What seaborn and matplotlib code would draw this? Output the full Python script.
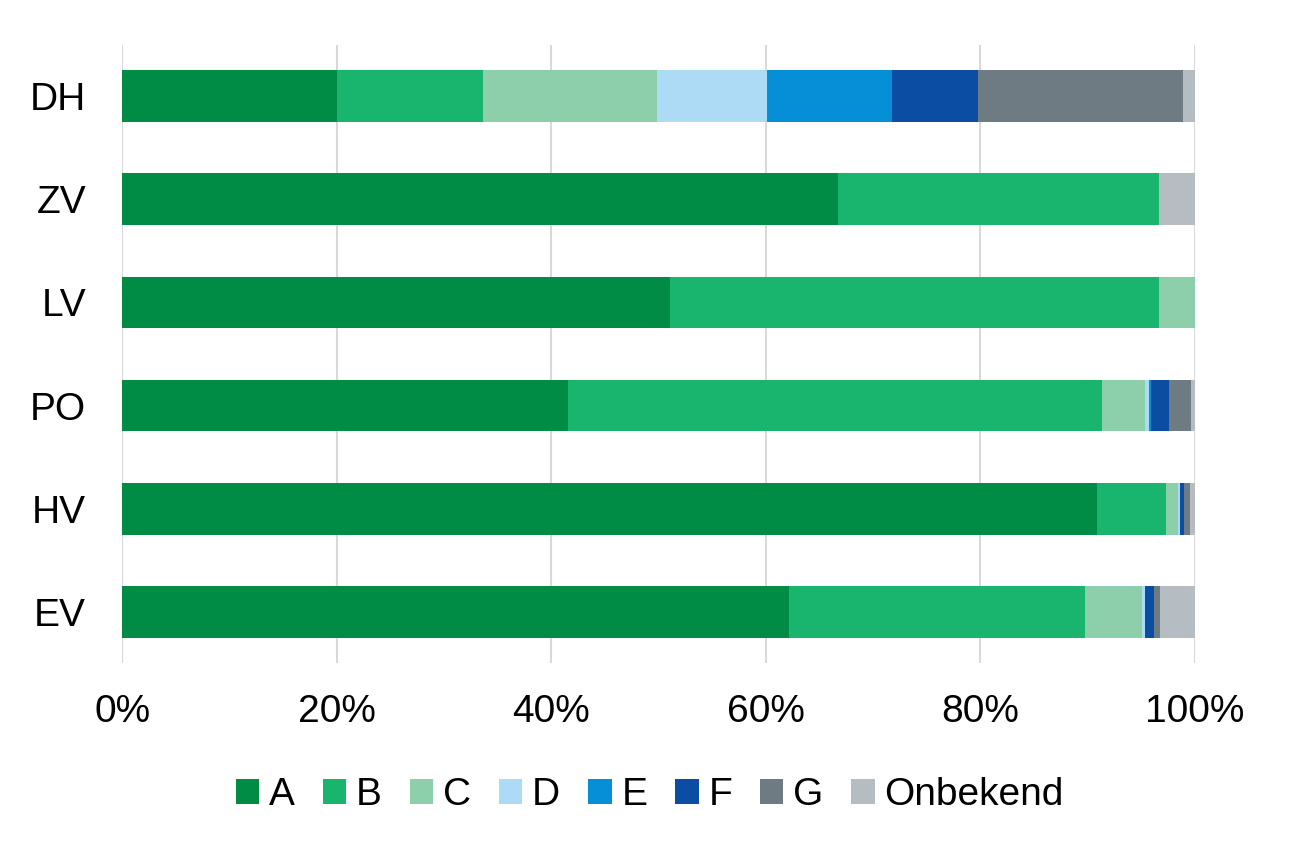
import pandas as pd
import matplotlib.pyplot as plt
import seaborn as sns
from matplotlib.patches import Patch

regions = ['DH', 'ZV', 'LV', 'PO', 'HV', 'EV']
labels = ['A', 'B', 'C', 'D', 'E', 'F', 'G', 'Onbekend']
colors = ['#008C45', '#19B46E', '#8DCFAA', '#ADDAF5', '#068ED6', '#0A4DA2', '#6E7B82', '#B6BDC2']

A = [20.0, 66.7, 51.1, 41.6, 90.9, 62.2]
B = [13.6, 30.0, 45.6, 49.8, 6.4, 27.6]
C = [16.3, 0.0, 3.3, 4.0, 1.1, 5.3]
D = [10.25, 0.0, 0.0, 0.35, 0.2, 0.3]
E = [11.65, 0.0, 0.0, 0.2, 0.05, 0.0]
F = [8.0, 0.0, 0.0, 1.65, 0.35, 0.85]
G = [19.1, 0.0, 0.0, 2.1, 0.6, 0.55]
Onbekend = [1.1, 3.3, 0.0, 0.3, 0.4, 3.2]

df = pd.DataFrame({'A': A, 'B': B, 'C': C, 'D': D, 'E': E, 'F': F, 'G': G,
                   'Onbekend': Onbekend}, index=regions)
cum = df.cumsum(axis=1)

sns.set_theme(style='white')
plt.rcParams['font.family'] = ['Liberation Sans', 'DejaVu Sans']

fig = plt.figure(figsize=(13, 8.58), dpi=100)
ax = fig.add_axes([0.094, 0.2267, 0.825, 0.7214])

# draw cumulative bars from the last category down so earlier ones sit on top
for lab, col in reversed(list(zip(labels, colors))):
    sns.barplot(x=cum[lab].values, y=regions, orient='h', color=col,
                width=0.5, saturation=1, ax=ax, zorder=2,
                edgecolor='none', linewidth=0)

ax.set_xlim(0, 100)
ax.set_ylim(5.5, -0.5)
ax.set_xticks(range(0, 101, 20))
ax.set_xticklabels([f'{v}%' for v in range(0, 101, 20)])
ax.xaxis.grid(True, color='#D9D9D9', linewidth=1.5, zorder=0)
ax.set_axisbelow(True)
for s in ax.spines.values():
    s.set_visible(False)
ax.tick_params(axis='both', length=0, labelsize=28, labelcolor='black')
ax.tick_params(axis='y', pad=26)
ax.tick_params(axis='x', pad=22)
ax.set_xlabel('')
ax.set_ylabel('')

handles = [Patch(facecolor=c, edgecolor='none', label=l) for l, c in zip(labels, colors)]
fig.legend(handles=handles, loc='center', bbox_to_anchor=(0.5, 0.073), ncol=8,
           frameon=False, fontsize=28, labelcolor='black', handlelength=0.6,
           handleheight=0.6, handletextpad=0.25, columnspacing=0.72,
           borderaxespad=0)

fig.savefig('out.png', dpi=100)
